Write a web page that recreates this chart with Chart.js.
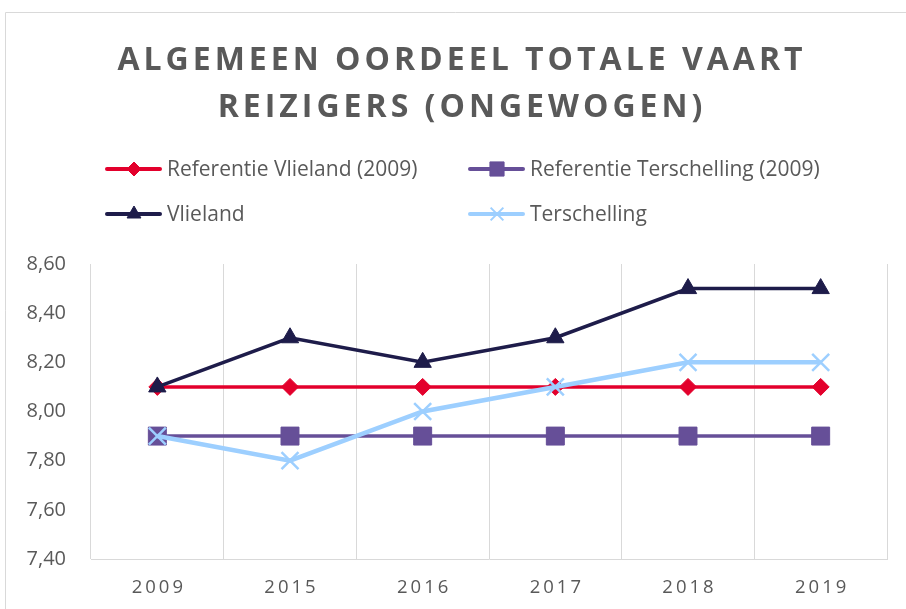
<!DOCTYPE html>
<html>
<head>
<meta charset="utf-8">
<script src="https://cdn.jsdelivr.net/npm/chart.js@4/dist/chart.umd.min.js"></script>
<style>
  html, body { margin: 0; padding: 0; background: #fff; overflow: hidden; }
  #wrap { position: relative; width: 906px; height: 609px; }
</style>
</head>
<body>
<div id="wrap"><canvas id="chart" width="906" height="609"></canvas></div>
<script>
// data
const years = ["2009", "2015", "2016", "2017", "2018", "2019"];
const refVlieland = [8.1, 8.1, 8.1, 8.1, 8.1, 8.1];
const refTerschelling = [7.9, 7.9, 7.9, 7.9, 7.9, 7.9];
const vlieland = [8.1, 8.3, 8.2, 8.3, 8.5, 8.5];
const terschelling = [7.9, 7.8, 8.0, 8.1, 8.2, 8.2];
const yTicks = { min: 7.4, max: 8.6, step: 0.2 };

const titleLines = ["ALGEMEEN OORDEEL TOTALE VAART", "REIZIGERS (ONGEWOGEN)"];
const textColor = "#595959";
const gridColor = "#d9d9d9";

const series = [
  { label: "Referentie Vlieland (2009)", data: refVlieland, color: "#e3002c", style: "rectRot", radius: 8.5, legendRadius: 7, width: 3.5 },
  { label: "Referentie Terschelling (2009)", data: refTerschelling, color: "#664f98", style: "rect", radius: 12.7, legendRadius: 10, width: 3.5 },
  { label: "Vlieland", data: vlieland, color: "#1e1c4a", style: "triangle", radius: 10, legendRadius: 8, width: 3.5 },
  { label: "Terschelling", data: terschelling, color: "#9dcfff", style: "crossRot", radius: 12, legendRadius: 9, width: 4.5 },
];

// title, legend, frame and spaced x labels drawn by hand
const decorPlugin = {
  id: "decor",
  beforeDraw(chart) {
    const ctx = chart.ctx;
    ctx.save();
    ctx.strokeStyle = gridColor;
    ctx.lineWidth = 1;
    ctx.beginPath();
    ctx.moveTo(5.5, 609);
    ctx.lineTo(5.5, 12.5);
    ctx.lineTo(906, 12.5);
    ctx.stroke();
    ctx.restore();
  },
  afterDraw(chart) {
    const ctx = chart.ctx;

    // title
    ctx.save();
    ctx.fillStyle = textColor;
    ctx.font = "700 32px 'Open Sans'";
    ctx.textBaseline = "alphabetic";
    ctx.textAlign = "left";
    ctx.letterSpacing = "4px";
    const baselines = [70, 117];
    titleLines.forEach((t, i) => {
      const w = ctx.measureText(t).width - 4;
      ctx.fillText(t, 460 - w / 2, baselines[i]);
    });
    ctx.restore();

    // legend, two columns
    const spots = [[107, 169], [470, 169], [107, 214], [470, 214]];
    ctx.save();
    ctx.font = "21px 'Open Sans'";
    ctx.textBaseline = "middle";
    ctx.textAlign = "left";
    series.forEach((s, i) => {
      const [x, y] = spots[i];
      ctx.strokeStyle = s.color;
      ctx.fillStyle = s.color;
      ctx.lineWidth = 4;
      ctx.lineCap = "round";
      ctx.beginPath();
      ctx.moveTo(x, y);
      ctx.lineTo(x + 53, y);
      ctx.stroke();
      ctx.lineCap = "butt";
      ctx.lineWidth = s.style === "crossRot" ? 2 : 1;
      Chart.helpers.drawPoint(ctx, { pointStyle: s.style, radius: s.legendRadius, rotation: 0, borderWidth: ctx.lineWidth }, x + 27, y);
      ctx.fillStyle = textColor;
      ctx.fillText(s.label, x + 60, y + 1);
    });
    ctx.restore();

    // x labels with letter spacing
    const xs = chart.scales.x;
    ctx.save();
    ctx.font = "18.5px 'Open Sans'";
    ctx.fillStyle = textColor;
    ctx.textBaseline = "middle";
    ctx.textAlign = "left";
    ctx.letterSpacing = "3px";
    years.forEach((t, i) => {
      const w = ctx.measureText(t).width - 3;
      ctx.fillText(t, xs.getPixelForTick(i) - w / 2, 588);
    });
    ctx.restore();
  }
};

const datasets = series.map((s, i) => ({
  label: s.label,
  data: s.data,
  borderColor: s.color,
  backgroundColor: s.color,
  borderWidth: s.width,
  pointStyle: s.style,
  pointRadius: s.radius,
  pointBorderWidth: s.style === "crossRot" ? 2.5 : 1,
  pointBorderColor: s.color,
  pointBackgroundColor: s.color,
  tension: 0,
  fill: false,
  order: series.length - i
}));

new Chart(document.getElementById("chart").getContext("2d"), {
  type: "line",
  data: { labels: years, datasets },
  plugins: [decorPlugin],
  options: {
    responsive: false,
    animation: false,
    events: [],
    layout: { padding: { top: 264, right: 19, left: 0, bottom: 0 } },
    plugins: {
      legend: { display: false },
      title: { display: false },
      tooltip: { enabled: false }
    },
    scales: {
      x: {
        offset: true,
        grid: { display: true, offset: true, color: gridColor, lineWidth: 1, drawTicks: false },
        border: { display: true, color: gridColor, width: 1 },
        ticks: { color: "rgba(0,0,0,0)", font: { family: "Open Sans", size: 18 } },
        afterFit(scale) { scale.height = 50; }
      },
      y: {
        min: yTicks.min,
        max: yTicks.max,
        grid: { display: false, drawTicks: false },
        border: { display: false },
        ticks: {
          stepSize: yTicks.step,
          padding: 25,
          color: textColor,
          font: { family: "Open Sans", size: 20 },
          callback: v => v.toFixed(2).replace(".", ",")
        },
        afterFit(scale) { scale.width = 91; }
      }
    }
  }
});
</script>
</body>
</html>
